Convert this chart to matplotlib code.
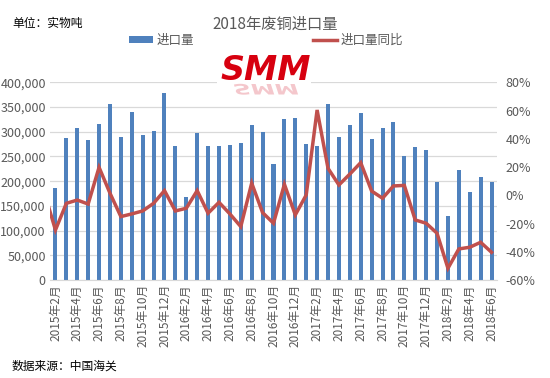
import matplotlib
matplotlib.use("Agg")
import matplotlib.pyplot as plt
import numpy as np
from matplotlib.patches import Patch, Rectangle, PathPatch
from matplotlib.lines import Line2D
from matplotlib.textpath import TextPath
from matplotlib.font_manager import FontProperties
import matplotlib.transforms as mtransforms

plt.rcParams['font.family'] = ['Noto Sans CJK SC', 'DejaVu Sans']

# ---- data ----
months = ["2015年1月"] + [f"{y}年{m}月" for y in (2015, 2016, 2017, 2018)
                          for m in range(1, 13)
                          if not (y == 2015 and m == 1) and not (y == 2018 and m > 6)]
imports = [np.nan,
           186000, 288000, 308000, 283000, 316000, 357000, 289000, 340000, 293000, 302000, 378000,
           271000, 168000, 297000, 271000, 271000, 273000, 277000, 314000, 300000, 235000, 326000,
           328000, 275000, 271000, 357000, 289000, 314000, 338000, 285000, 308000, 320000,
           251000, 269000, 263000, 198000, 130000, 223000, 178000, 208000, 198000]
yoy = [1.5,
       -24.6, -5.7, -3.4, -6.2, 19.8, 1.5, -15.1, -13.2, -11.1, -5.7, 3.3,
       -11.1, -9.2, 3.3, -12.7, -5.0, -13.2, -22.2, 8.6, -12.3, -19.8, 7.8,
       -13.9, 0.2, 60.4, 19.1, 7.3, 15.0, 23.1, 3.0, -2.1, 6.6,
       7.0, -17.5, -19.8, -26.9, -51.7, -38.0, -36.8, -33.3, -40.4]

title = "2018年废铜进口量"
unit_text = "单位：实物吨"
source_text = "数据来源：中国海关"
bar_label = "进口量"
line_label = "进口量同比"

# ---- figure ----
fig = plt.figure(figsize=(5.5, 3.78), dpi=100)
fig.patch.set_facecolor('white')
ax = fig.add_axes([50/550, 1-280/378, 447/550, (280-82.3)/378])
x = np.arange(len(months))
blue = '#4F81BD'
red = '#C0504D'
gray = '#595959'

ax.bar(x, imports, width=0.37, color=blue, zorder=2)
ax.set_xlim(0.5, len(months) - 0.5)
ax.set_ylim(0, 400000)
ax.set_yticks(np.arange(0, 400001, 50000))
ax.set_yticklabels([f"{v:,}" for v in range(0, 400001, 50000)], fontsize=9, color=gray)
ax.yaxis.grid(True, color='#D9D9D9', linewidth=0.9, zorder=0)
ax.set_axisbelow(True)
for s in ['top', 'right', 'left']:
    ax.spines[s].set_visible(False)
ax.spines['bottom'].set_color('#D9D9D9')
ax.tick_params(axis='y', length=0, pad=3)
ax.tick_params(axis='x', length=0, pad=3)
ax.set_xticks(x[1::2])
ax.set_xticklabels(months[1::2], rotation=90, fontsize=8.5, color=gray)

ax2 = ax.twinx()
ax2.plot(x, yoy, color=red, linewidth=2.5, zorder=3, solid_joinstyle='miter')
ax2.set_ylim(-60, 80)
ax2.set_yticks(np.arange(-60, 81, 20))
ax2.set_yticklabels([f"{v}%" for v in range(-60, 81, 20)], fontsize=9, color=gray)
ax2.tick_params(axis='y', length=0, pad=6)
for s in ax2.spines.values():
    s.set_visible(False)

# logo area (white box hides gridlines)
fig.patches.append(Rectangle((217/550, 1-104/378), 94/550, 48/378,
                             transform=fig.transFigure, facecolor='white',
                             edgecolor='none', zorder=5))
fp = FontProperties(family='DejaVu Sans', weight='bold', style='italic')
fig.text(266/550, 1-71/378, "SMM", fontproperties=fp, fontsize=24, color='#D7000F',
         ha='center', va='center', zorder=6)
tp = TextPath((0, 0), "SMM", prop=fp, size=24)
bb = tp.get_extents()
trans = (mtransforms.Affine2D().translate(-(bb.x0 + bb.x1)/2, 0).scale(1, -0.6)
         .translate(266, 378 - 84))
fig.patches.append(PathPatch(tp, transform=trans, facecolor='#EC9AA2', edgecolor='none',
                             alpha=0.55, zorder=6))

# texts
fig.text(275/550, 1-24/378, title, fontsize=11, color=gray, ha='center', va='center')
fig.text(12/550, 1-23/378, unit_text, fontsize=8.5, color='black', ha='left', va='center')
fig.text(12/550, 1-366/378, source_text, fontsize=8.5, color='black', ha='left', va='center')

handles = [Patch(facecolor=blue, edgecolor='none'),
           Line2D([0], [0], color=red, linewidth=2.5)]
fig.legend(handles, [bar_label, line_label], loc='center', ncol=2,
           bbox_to_anchor=(266/550, 1-40/378), frameon=False, fontsize=9,
           labelcolor=gray, handlelength=1.9, handleheight=0.5, handletextpad=0.3,
           columnspacing=9.5)

fig.savefig("out.png", dpi=100)
